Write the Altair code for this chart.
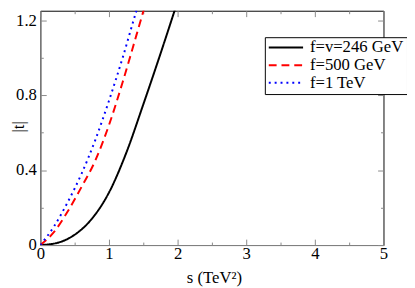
import altair as alt
import pandas as pd

# ---- data ----
series_names = ["f=v=246 GeV", "f=500 GeV", "f=1 TeV"]
series_colors = ["#000000", "#ff0000", "#0000ff"]
series_dashes = [[1, 0], [8, 5], [2, 4]]

s_black = [0, 0.25, 0.5, 0.75, 1.0, 1.25, 1.5, 1.75, 2.0]
t_black = [0, 0.012, 0.055, 0.14, 0.28, 0.49, 0.75, 1.02, 1.3]

s_red = [0, 0.2, 0.4, 0.6, 0.8, 1.0, 1.2, 1.4, 1.55]
t_red = [0, 0.07, 0.18, 0.31, 0.45, 0.64, 0.87, 1.12, 1.31]

s_blue = [0, 0.2, 0.4, 0.6, 0.8, 1.0, 1.2, 1.4, 1.46]
t_blue = [0, 0.10, 0.23, 0.38, 0.56, 0.77, 1.0, 1.25, 1.32]

x_major = [0, 1, 2, 3, 4, 5]
x_ticks = [0, 0.5, 1, 1.5, 2, 2.5, 3, 3.5, 4, 4.5, 5]
y_major = [0, 0.4, 0.8, 1.2]
y_ticks = [0, 0.2, 0.4, 0.6, 0.8, 1.0, 1.2]

rows = []
for name, ss, tt in zip(series_names, [s_black, s_red, s_blue], [t_black, t_red, t_blue]):
    for a, b in zip(ss, tt):
        rows.append({"series": name, "s": a, "t": b})
df = pd.DataFrame(rows)

W, H = 350, 239
FONT = "Liberation Serif"
GRAY = "#888888"

x_scale = alt.Scale(domain=[0, 5], nice=False)
y_scale = alt.Scale(domain=[0, 1.25], nice=False)

cond_x = {"condition": {"test": "datum.value % 1 === 0", "value": 6}, "value": 3}
cond_y = {"condition": {"test": "round(datum.value * 10) % 4 === 0", "value": 6}, "value": 3}

leg = alt.Legend(
    orient="none", legendX=229, legendY=27,
    symbolType="stroke", symbolSize=1225, symbolStrokeWidth=2,
    clipHeight=15, rowPadding=0, padding=3, labelOffset=6,
    labelFont=FONT, labelFontSize=17, labelColor="black", labelLimit=300,
    strokeColor="black", fillColor="white",
)

lines = alt.Chart(df).mark_line(strokeWidth=2, clip=True, interpolate="monotone").encode(
    x=alt.X("s:Q", scale=x_scale, axis=alt.Axis(
        orient="bottom", values=x_major, format="~g", ticks=False, tickSize=0,
        labelPadding=1, labelFlush=False, labelOverlap=False, grid=False,
        domainColor=GRAY, labelFont=FONT, labelFontSize=17, labelColor="black",
        title="s (TeV²)", titleFont=FONT, titleFontSize=17, titleFontWeight="normal",
        titleColor="black", titleX=177, titleY=38, titleBaseline="alphabetic")),
    y=alt.Y("t:Q", scale=y_scale, axis=alt.Axis(
        orient="left", values=y_major, format="~g", ticks=False, tickSize=0,
        labelPadding=4, labelFlush=False, labelOverlap=False, grid=False,
        domainColor=GRAY, labelFont=FONT, labelFontSize=17, labelColor="black",
        title="|t|", titleFont=FONT, titleFontSize=17, titleFontWeight="normal",
        titleColor="black", titleX=-22, titleY=118, titleAngle=270,
        titleBaseline="middle", titleAlign="center")),
    color=alt.Color("series:N", title=None,
                    scale=alt.Scale(domain=series_names, range=series_colors), legend=leg),
    strokeDash=alt.StrokeDash("series:N", title=None,
                              scale=alt.Scale(domain=series_names, range=series_dashes), legend=leg),
)

ticks_bl = alt.Chart(df).mark_line(opacity=0, clip=True).encode(
    x=alt.X("s:Q", scale=x_scale, axis=alt.Axis(
        orient="top", offset=-H, values=x_ticks, labels=False, domain=False,
        tickSize=cond_x, tickColor=GRAY, grid=False, title=None)),
    y=alt.Y("t:Q", scale=y_scale, axis=alt.Axis(
        orient="right", offset=-W, values=y_ticks, labels=False, domain=False,
        tickSize=cond_y, tickColor=GRAY, grid=False, title=None)),
    detail="series:N",
)

ticks_tr = alt.Chart(df).mark_line(opacity=0, clip=True).encode(
    x=alt.X("s:Q", scale=x_scale, axis=alt.Axis(
        orient="bottom", offset=-H, values=x_ticks, labels=False, domain=False,
        tickSize=cond_x, tickColor=GRAY, grid=False, title=None)),
    y=alt.Y("t:Q", scale=y_scale, axis=alt.Axis(
        orient="left", offset=-W, values=y_ticks, labels=False, domain=True,
        domainColor=GRAY, tickSize=cond_y, tickColor=GRAY, grid=False, title=None)),
    detail="series:N",
)

chart = alt.layer(lines, ticks_bl, ticks_tr).resolve_axis(
    x="independent", y="independent"
).properties(
    width=W, height=H,
    padding={"left": 33, "top": 0, "right": 24, "bottom": 40},
    autosize=alt.AutoSizeParams(type="none"),
).configure_view(stroke="#000000", strokeWidth=1)

chart.save("out.html", embed_options={"renderer": "svg", "actions": False})
